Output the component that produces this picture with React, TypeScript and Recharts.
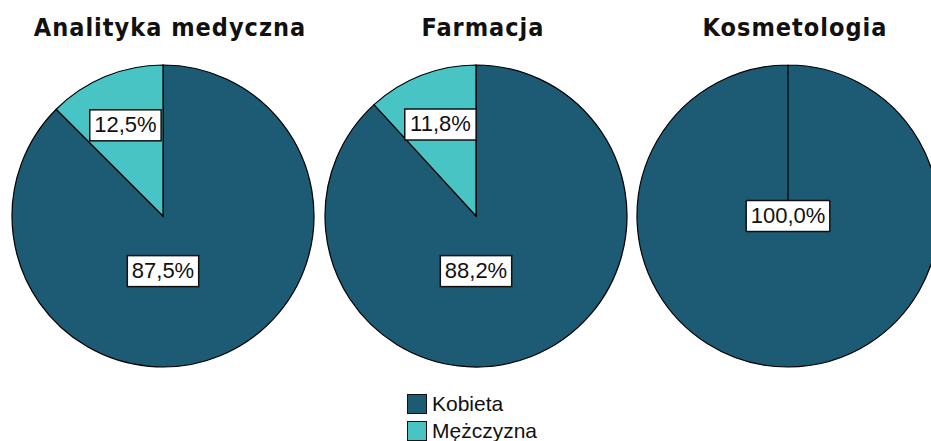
import { PieChart, Pie, Cell } from "recharts";

const programs = ["Analityka medyczna", "Farmacja", "Kosmetologia"];
const genders = ["Kobieta", "Mężczyzna"];
const kobietaPct = [87.5, 88.2, 100.0];
const mezczyznaPct = [12.5, 11.8, 0];

const COLORS = ["#1c5b73", "#48c4c5"];
const LABEL_FONT = "'Liberation Sans', Arial, sans-serif";
const TITLE_FONT = "'DejaVu Sans Condensed', 'DejaVu Sans', Verdana, sans-serif";

const RADIUS = 151;
const BOX = 320;
const CENTERS_X = [163, 476, 788];
const CENTER_Y = 216;
const LABEL_SIZE = 22;

// rough Arial advance widths, used to size the label boxes
const charW = (c: string) => (c === "," ? 0.278 : c === "%" ? 0.889 : 0.556);
const textWidth = (s: string, size: number) => s.split("").reduce((a, c) => a + charW(c), 0) * size;

const fmt = (v: number) => v.toFixed(1).replace(".", ",") + "%";

const renderLabel = (props: any) => {
  const { cx, cy, midAngle, outerRadius, percent, value } = props;
  if (!value) return null;
  const RAD = Math.PI / 180;
  let x = cx;
  let y = cy;
  if (percent > 0.999) {
    // whole pie: label sits in the middle
  } else if (percent > 0.5) {
    y = cy + outerRadius * 0.365;
  } else {
    x = cx + outerRadius * 0.65 * Math.cos(-midAngle * RAD);
    y = cy + outerRadius * 0.65 * Math.sin(-midAngle * RAD);
  }
  const text = fmt(value);
  const w = textWidth(text, LABEL_SIZE) + 9;
  const h = 31;
  return (
    <g>
      <rect x={x - w / 2} y={y - h / 2} width={w} height={h} fill="#fff" stroke="#111" strokeWidth={1.5} />
      <text x={x} y={y + 1} textAnchor="middle" dominantBaseline="middle" fontSize={LABEL_SIZE} fontFamily={LABEL_FONT} fill="#111">
        {text}
      </text>
    </g>
  );
};

const App = () => {
  return (
    <div style={{ position: "absolute", left: 0, top: 0, width: 931, height: 441, overflow: "hidden", background: "#fff" }}>
      {programs.map((p, i) => {
        const data = [
          { name: genders[0], value: kobietaPct[i] },
          { name: genders[1], value: mezczyznaPct[i] },
        ];
        return (
          <div key={p}>
            <div
              style={{
                position: "absolute",
                left: CENTERS_X[i] + 7 - 200,
                width: 400,
                top: 13,
                textAlign: "center",
                fontFamily: TITLE_FONT,
                fontWeight: "bold",
                fontSize: 25,
                lineHeight: "29px",
                letterSpacing: 1,
                color: "#111",
              }}
            >
              {p}
            </div>
            <div style={{ position: "absolute", left: CENTERS_X[i] - BOX / 2, top: CENTER_Y - BOX / 2 }}>
              <PieChart width={BOX} height={BOX} margin={{ top: 0, right: 0, bottom: 0, left: 0 }}>
                <Pie
                  data={data}
                  dataKey="value"
                  nameKey="name"
                  cx={BOX / 2}
                  cy={BOX / 2}
                  innerRadius={0}
                  outerRadius={RADIUS}
                  startAngle={90}
                  endAngle={-270}
                  label={renderLabel}
                  labelLine={false}
                  isAnimationActive={false}
                >
                  {data.map((d, j) => (
                    <Cell key={d.name} fill={COLORS[j]} stroke="#000" strokeWidth={1.2} />
                  ))}
                </Pie>
              </PieChart>
            </div>
          </div>
        );
      })}
      <div style={{ position: "absolute", left: 407, top: 390 }}>
        {genders.map((g, j) => (
          <div key={g} style={{ display: "flex", alignItems: "center", height: 27 }}>
            <div style={{ width: 18, height: 18, background: COLORS[j], border: "1.5px solid #111", marginRight: 5 }} />
            <span style={{ fontFamily: LABEL_FONT, fontSize: 21, color: "#111" }}>{g}</span>
          </div>
        ))}
      </div>
    </div>
  );
};

export default App;
